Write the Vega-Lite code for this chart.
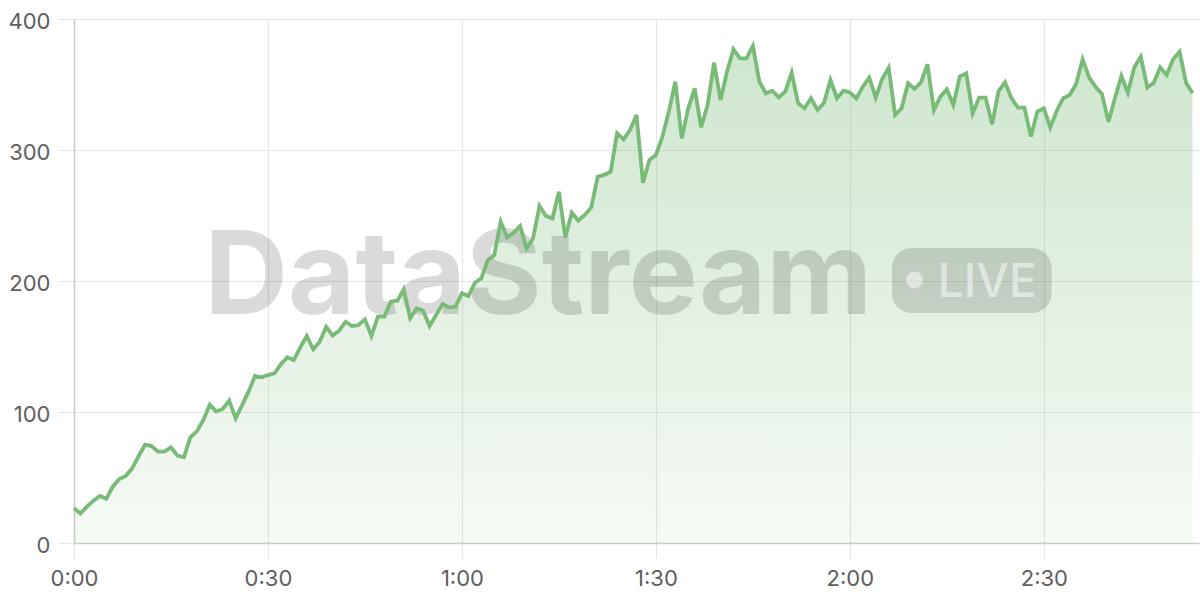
{
  "$schema": "https://vega.github.io/schema/vega-lite/v6.json",
  "width": 1125,
  "height": 524,
  "autosize": {"type": "none"},
  "padding": {"left": 74, "top": 19, "right": 1, "bottom": 57},
  "background": "white",
  "config": {"view": {"stroke": null}, "font": "Inter"},
  "datasets": {
    "stream": [
      {"t":0,"v":26.5},{"t":1,"v":22.6},{"t":2,"v":27.7},{"t":3,"v":32.3},{"t":4,"v":35.9},{"t":5,"v":33.8},{"t":6,"v":43},{"t":7,"v":48.9},{"t":8,"v":51.1},{"t":9,"v":57},
      {"t":10,"v":66.4},{"t":11,"v":75},{"t":12,"v":74},{"t":13,"v":69.7},{"t":14,"v":69.7},{"t":15,"v":73},{"t":16,"v":66.7},{"t":17,"v":65.4},{"t":18,"v":80.7},{"t":19,"v":85.2},
      {"t":20,"v":93.9},{"t":21,"v":105.6},{"t":22,"v":100.3},{"t":23,"v":102.3},{"t":24,"v":108.7},{"t":25,"v":95.2},{"t":26,"v":105.3},{"t":27,"v":115.5},{"t":28,"v":127.5},{"t":29,"v":126.5},
      {"t":30,"v":128.2},{"t":31,"v":129.5},{"t":32,"v":136.4},{"t":33,"v":141.7},{"t":34,"v":139.7},{"t":35,"v":149.4},{"t":36,"v":158},{"t":37,"v":147.8},{"t":38,"v":153.7},{"t":39,"v":165.1},
      {"t":40,"v":158.3},{"t":41,"v":162.1},{"t":42,"v":168.9},{"t":43,"v":165.6},{"t":44,"v":166.4},{"t":45,"v":170.7},{"t":46,"v":158},{"t":47,"v":172.8},{"t":48,"v":172.8},{"t":49,"v":184.2},
      {"t":50,"v":185},{"t":51,"v":193.6},{"t":52,"v":171.6},{"t":53,"v":179.1},{"t":54,"v":177.3},{"t":55,"v":165.6},{"t":56,"v":174},{"t":57,"v":182.4},{"t":58,"v":179.9},{"t":59,"v":180.4},
      {"t":60,"v":190.6},{"t":61,"v":188.5},{"t":62,"v":198.7},{"t":63,"v":202},{"t":64,"v":216},{"t":65,"v":219.8},{"t":66,"v":245.3},{"t":67,"v":233.3},{"t":68,"v":236.9},{"t":69,"v":242},
      {"t":70,"v":225},{"t":71,"v":232.6},{"t":72,"v":257.3},{"t":73,"v":249.6},{"t":74,"v":247.8},{"t":75,"v":268.2},{"t":76,"v":233.3},{"t":77,"v":252.2},{"t":78,"v":246},{"t":79,"v":250.4},
      {"t":80,"v":256.2},{"t":81,"v":279.6},{"t":82,"v":281},{"t":83,"v":283.5},{"t":84,"v":312.7},{"t":85,"v":308.1},{"t":86,"v":315.3},{"t":87,"v":326.7},{"t":88,"v":275},{"t":89,"v":292.4},
      {"t":90,"v":296.2},{"t":91,"v":310},{"t":92,"v":329.3},{"t":93,"v":352.2},{"t":94,"v":308.9},{"t":95,"v":331.8},{"t":96,"v":347.1},{"t":97,"v":317.3},{"t":98,"v":334.4},{"t":99,"v":366.7},
      {"t":100,"v":338.2},{"t":101,"v":359.8},{"t":102,"v":376.9},{"t":103,"v":370},{"t":104,"v":370},{"t":105,"v":379.4},{"t":106,"v":352.2},{"t":107,"v":343.3},{"t":108,"v":345.3},{"t":109,"v":340.2},
      {"t":110,"v":344.5},{"t":111,"v":359},{"t":112,"v":335.6},{"t":113,"v":331.8},{"t":114,"v":339.5},{"t":115,"v":330.5},{"t":116,"v":336.1},{"t":117,"v":353.4},{"t":118,"v":339.5},{"t":119,"v":345.3},
      {"t":120,"v":344},{"t":121,"v":339.4},{"t":122,"v":348.3},{"t":123,"v":355.2},{"t":124,"v":340},{"t":125,"v":354.2},{"t":126,"v":362.8},{"t":127,"v":326.7},{"t":128,"v":331.8},{"t":129,"v":350.9},
      {"t":130,"v":346.6},{"t":131,"v":351.7},{"t":132,"v":365.4},{"t":133,"v":330.5},{"t":134,"v":340.7},{"t":135,"v":346.3},{"t":136,"v":334.4},{"t":137,"v":356},{"t":138,"v":358.5},{"t":139,"v":328},
      {"t":140,"v":340},{"t":141,"v":340},{"t":142,"v":319.6},{"t":143,"v":345},{"t":144,"v":351.7},{"t":145,"v":339.4},{"t":146,"v":332.3},{"t":147,"v":332.3},{"t":148,"v":310.2},{"t":149,"v":329.3},
      {"t":150,"v":331.8},{"t":151,"v":317.3},{"t":152,"v":330},{"t":153,"v":339.5},{"t":154,"v":342},{"t":155,"v":350.4},{"t":156,"v":369.2},{"t":157,"v":355.5},{"t":158,"v":348.3},{"t":159,"v":342.7},
      {"t":160,"v":321.6},{"t":161,"v":339.5},{"t":162,"v":356.5},{"t":163,"v":343.7},{"t":164,"v":363.1},{"t":165,"v":371.2},{"t":166,"v":347.8},{"t":167,"v":351.4},{"t":168,"v":363.1},{"t":169,"v":357.3},
      {"t":170,"v":369.2},{"t":171,"v":375},{"t":172,"v":351.4},{"t":173,"v":343.3}
    ]
  },
  "layer": [
    {
      "data": {"name": "stream"},
      "mark": {
        "type": "area",
        "fill": {
          "gradient": "linear",
          "x1": 0, "y1": 1, "x2": 0, "y2": 0,
          "stops": [
            {"offset": 0, "color": "rgba(122,188,120,0.07)"},
            {"offset": 1, "color": "rgba(122,188,120,0.37)"}
          ]
        }
      },
      "encoding": {
        "x": {
          "field": "t", "type": "quantitative", "title": null,
          "scale": {"domain": [0, 174], "nice": false, "zero": false},
          "axis": {
            "values": [0, 30, 60, 90, 120, 150],
            "labelExpr": "floor(datum.value/60) + ':' + (datum.value%60 < 10 ? '0' : '') + (datum.value%60)",
            "title": null,
            "grid": true, "gridColor": "#e6e6e6", "gridWidth": 1.2,
            "ticks": true, "tickColor": "#e6e6e6", "tickWidth": 1.2, "tickSize": 15,
            "domain": true, "domainColor": "#cccccc", "domainWidth": 1.5,
            "labelFont": "Inter", "labelFontSize": 22, "labelColor": "#5e5e5e", "labelPadding": 10,
            "labelFlush": false
          }
        },
        "y": {
          "field": "v", "type": "quantitative", "title": null,
          "scale": {"domain": [0, 400], "nice": false},
          "axis": {
            "values": [0, 100, 200, 300, 400],
            "title": null,
            "grid": true, "gridColor": "#e6e6e6", "gridWidth": 1.2,
            "ticks": true, "tickColor": "#e6e6e6", "tickWidth": 1.2, "tickSize": 16,
            "domain": true, "domainColor": "#cccccc", "domainWidth": 1.5,
            "labelFont": "Inter", "labelFontSize": 22, "labelColor": "#5e5e5e", "labelPadding": 8, "labelOffset": 2
          }
        }
      }
    },
    {
      "data": {"values": [{}]},
      "mark": {"type": "text", "text": "DataStream", "font": "Inter", "fontSize": 116, "fontWeight": 700, "align": "center", "baseline": "alphabetic", "color": "#000000", "opacity": 0.14},
      "encoding": {
        "x": {"datum": 71.8, "type": "quantitative", "title": null},
        "y": {"datum": 174.8, "type": "quantitative", "title": null}
      }
    },
    {
      "data": {"values": [{}]},
      "mark": {"type": "rect", "color": "#000000", "opacity": 0.14, "cornerRadius": 20},
      "encoding": {
        "x": {"datum": 126.5, "type": "quantitative", "title": null},
        "x2": {"datum": 151.2},
        "y": {"datum": 225.2, "type": "quantitative", "title": null},
        "y2": {"datum": 175.6}
      }
    },
    {
      "data": {"values": [{}]},
      "mark": {"type": "circle", "color": "#ffffff", "opacity": 0.5, "size": 290},
      "encoding": {
        "x": {"datum": 130.0, "type": "quantitative", "title": null},
        "y": {"datum": 200.8, "type": "quantitative", "title": null}
      }
    },
    {
      "data": {"values": [{}]},
      "mark": {"type": "text", "text": "LIVE", "font": "Inter", "fontSize": 46, "fontWeight": 500, "align": "left", "baseline": "alphabetic", "color": "#ffffff", "opacity": 0.5},
      "encoding": {
        "x": {"datum": 133.6, "type": "quantitative", "title": null},
        "y": {"datum": 187.8, "type": "quantitative", "title": null}
      }
    },
    {
      "data": {"name": "stream"},
      "mark": {"type": "line", "color": "#78bb76", "strokeWidth": 3.8},
      "encoding": {
        "x": {"field": "t", "type": "quantitative", "title": null},
        "y": {"field": "v", "type": "quantitative", "title": null}
      }
    }
  ]
}
